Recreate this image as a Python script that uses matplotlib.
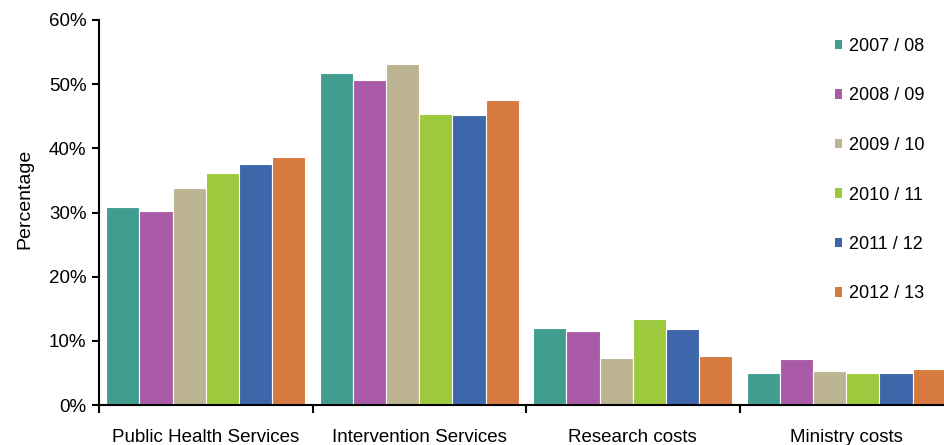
import matplotlib.pyplot as plt
from matplotlib.patches import Patch
import numpy as np

plt.rcParams['font.family'] = ['Liberation Sans', 'DejaVu Sans']

categories = ['Public Health Services', 'Intervention Services', 'Research costs', 'Ministry costs']
years = ['2007 / 08', '2008 / 09', '2009 / 10', '2010 / 11', '2011 / 12', '2012 / 13']
colors = ['#429D91', '#A95BA8', '#BDB592', '#9DC93F', '#3E66AA', '#D77A40']

# percentage per year, one list per category order above
values = {
    '2007 / 08': [30.8, 51.7, 12.0, 5.0],
    '2008 / 09': [30.2, 50.6, 11.5, 7.2],
    '2009 / 10': [33.8, 53.1, 7.4, 5.3],
    '2010 / 11': [36.2, 45.3, 13.4, 5.0],
    '2011 / 12': [37.6, 45.2, 11.8, 5.0],
    '2012 / 13': [38.6, 47.6, 7.7, 5.6],
}

fig = plt.figure(figsize=(9.44, 4.45), dpi=100)
ax = fig.add_axes([99 / 944, 1 - 405 / 445, 854 / 944, 385 / 445])

x = np.arange(len(categories))
width = 0.1555
for j, yr in enumerate(years):
    ax.bar(x + (j - 2.5) * width, values[yr], width, color=colors[j],
           edgecolor='white', linewidth=0.8)

ax.set_xlim(-0.5, 3.5)
ax.set_ylim(0, 60)
ax.set_yticks(range(0, 61, 10))
ax.set_yticklabels([f'{v}%' for v in range(0, 61, 10)], fontsize=13.5)
ax.tick_params(axis='y', direction='out', length=5, width=1.5, pad=4)

# boundaries get the tick marks, centres get the labels
ax.set_xticks([-0.5, 0.5, 1.5, 2.5, 3.5])
ax.set_xticklabels([])
ax.set_xticks(x, minor=True)
ax.set_xticklabels(categories, minor=True, fontsize=13.5)
ax.tick_params(axis='x', which='major', direction='out', length=6, width=1.5)
ax.tick_params(axis='x', which='minor', length=0, pad=17)

for s in ['top', 'right']:
    ax.spines[s].set_visible(False)
for s in ['left', 'bottom']:
    ax.spines[s].set_linewidth(1.5)

fig.text(25 / 944, 1 - 199 / 445, 'Percentage', fontsize=14, rotation=90,
         ha='center', va='center')

handles = [Patch(facecolor=c, edgecolor='none') for c in colors]
fig.legend(handles, years, loc='upper left', bbox_to_anchor=(835 / 944, 1 - 38 / 445),
           frameon=False, fontsize=13, handlelength=0.4, handleheight=0.4,
           handletextpad=0.35, labelspacing=1.8, borderpad=0, borderaxespad=0)

fig.savefig('out.png', dpi=100)
